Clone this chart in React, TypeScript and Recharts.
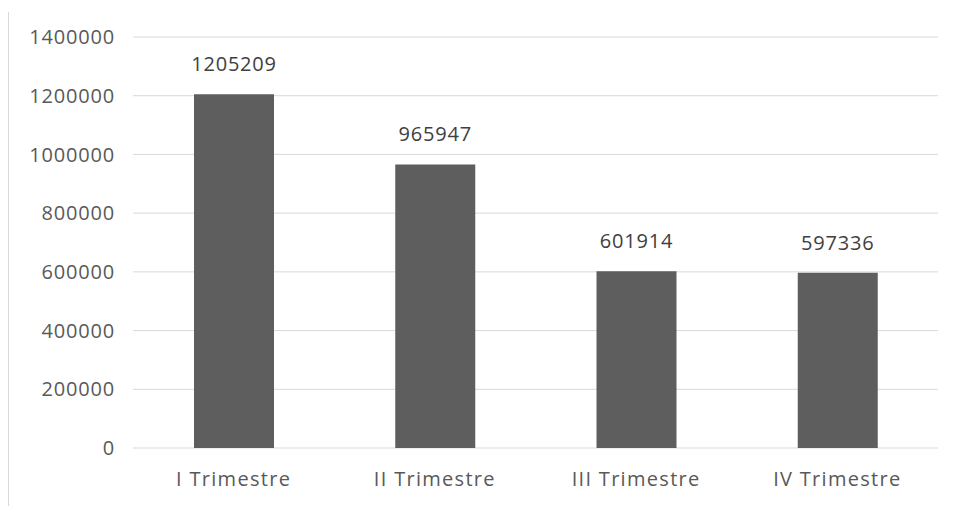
import React from "react";
import { BarChart, Bar, XAxis, YAxis, CartesianGrid, LabelList } from "recharts";

const categories = ["I Trimestre", "II Trimestre", "III Trimestre", "IV Trimestre"];
const values = [1205209, 965947, 601914, 597336];
const yTicks = [0, 200000, 400000, 600000, 800000, 1000000, 1200000, 1400000];

const data = categories.map((name, i) => ({ name, value: values[i] }));

const FONT = "'Open Sans', 'DejaVu Sans', sans-serif";

export default function App() {
  return (
    <div style={{ position: "absolute", left: 0, top: 0, width: 953, height: 506, background: "#ffffff" }}>
      <div style={{ position: "absolute", left: 8, top: 12, width: 1, height: 494, background: "#d9d9d9" }} />
      <BarChart
        width={953}
        height={506}
        data={data}
        margin={{ top: 37, right: 15, bottom: 0, left: 0 }}
        barSize={80}
      >
        <CartesianGrid vertical={false} stroke="#d9d9d9" strokeWidth={1} />
        <XAxis
          dataKey="name"
          axisLine={false}
          tickLine={false}
          tickSize={0}
          tickMargin={24}
          height={58}
          interval={0}
          tick={{ fill: "#595959", fontSize: 20, fontFamily: FONT, letterSpacing: 1.3 }}
        />
        <YAxis
          domain={[0, 1400000]}
          ticks={yTicks}
          axisLine={false}
          tickLine={false}
          tickSize={0}
          tickMargin={18}
          width={133}
          interval={0}
          tick={{ fill: "#595959", fontSize: 20, fontFamily: FONT, letterSpacing: 0.8 }}
        />
        <Bar dataKey="value" fill="#5e5e5e" isAnimationActive={false}>
          <LabelList
            dataKey="value"
            position="top"
            offset={23}
            style={{ fill: "#404040", fontSize: 20, fontFamily: FONT, letterSpacing: 0.8 }}
          />
        </Bar>
      </BarChart>
    </div>
  );
}
